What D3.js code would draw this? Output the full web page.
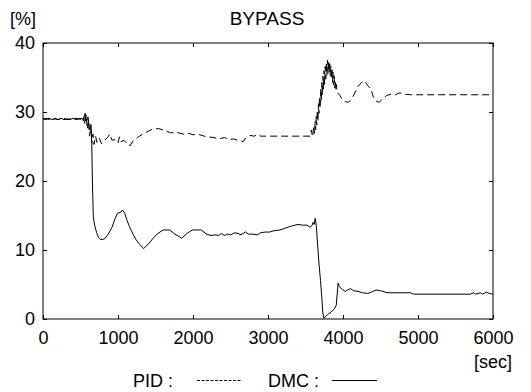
<!DOCTYPE html>
<html>
<head>
<meta charset="utf-8">
<script src="https://cdn.jsdelivr.net/npm/d3@7/dist/d3.min.js"></script>
<style>
  html, body { margin: 0; padding: 0; background: #fff; }
  svg text { font-family: Arial, "Liberation Sans", sans-serif; fill: #000; }
</style>
</head>
<body>
<svg id="chart" width="531" height="392"></svg>
<script>
// ---- data ----
const title = "BYPASS";
const yUnit = "[%]";
const xUnit = "[sec]";
const xTicks = [0, 1000, 2000, 3000, 4000, 5000, 6000];
const yTicks = [0, 10, 20, 30, 40];
const seriesNames = ["PID", "DMC"];

const pidT = [0,40,80,120,160,200,240,280,320,360,400,440,480,520,540,560,575,590,605,620,635,650,665,680,700,720,750,780,820,860,890,920,960,1000,1020,1040,1080,1120,1160,1200,1260,1330,1400,1460,1540,1600,1700,1800,1870,1950,2000,2060,2150,2200,2280,2340,2420,2480,2540,2600,2670,2700,2760,2820,2860,2900,3000,3560,3580,3590,3600,3610,3620,3628,3635,3643,3650,3658,3665,3673,3680,3688,3695,3703,3710,3718,3725,3733,3740,3748,3755,3763,3770,3778,3785,3793,3800,3808,3815,3823,3830,3838,3845,3853,3860,3868,3875,3883,3890,3898,3905,3913,3920,3940,3960,3990,4030,4070,4110,4150,4200,4250,4290,4330,4370,4400,4440,4480,4520,4580,4650,4700,4760,4800,4900,6000];
const pidV = [29.0,29.1,28.9,29.0,29.1,28.9,29.0,29.1,28.9,29.0,28.9,29.1,29.0,28.9,29.3,28.2,29.6,27.5,28.8,26.5,27.8,25.5,26.8,25.3,26.5,25.6,26.2,25.4,25.9,26.3,26.8,25.9,26.0,25.5,26.4,25.7,25.9,25.4,25.1,25.8,26.3,26.8,27.2,27.5,27.6,27.4,27.0,27.0,26.8,26.9,26.7,26.8,26.5,26.4,26.3,26.1,26.3,26.0,26.1,25.9,25.7,26.2,26.6,26.5,26.8,26.5,26.5,26.5,27.4,26.4,26.8,28.0,26.9,28.6,27.4,29.4,28.1,30.3,28.6,31.2,29.8,32.2,30.6,33.3,31.5,34.3,32.4,35.2,33.3,36.0,34.0,36.6,34.8,37.2,35.3,37.5,35.6,37.3,35.7,37.0,35.2,36.7,34.8,36.4,34.3,35.8,33.9,35.2,33.5,34.6,33.2,34.0,32.9,32.6,32.4,31.8,31.5,31.4,31.8,32.6,33.7,34.3,34.5,33.8,33.4,32.3,31.6,31.4,31.8,32.4,32.6,32.5,32.8,32.6,32.5,32.5];

const dmcT = [0,40,80,120,160,200,240,280,320,360,400,440,480,520,540,560,580,600,620,640,650,660,671,690,716,740,770,820,870,920,960,990,1040,1060,1090,1120,1160,1200,1240,1290,1340,1400,1460,1520,1600,1690,1760,1850,1920,1990,2110,2180,2240,2300,2340,2380,2420,2460,2500,2560,2600,2640,2700,2740,2800,2860,2900,2960,3020,3080,3160,3240,3320,3400,3460,3520,3560,3590,3600,3615,3630,3645,3660,3680,3700,3715,3730,3745,3790,3850,3880,3910,3935,3950,3990,4030,4060,4100,4140,4200,4260,4330,4380,4440,4500,4560,4600,4900,4940,5700,5740,5770,5830,5860,5910,5950,6000];
const dmcV = [29.0,28.9,29.1,28.9,29.0,28.9,29.1,28.9,29.0,28.9,29.1,28.9,29.0,29.1,28.7,29.8,28.6,29.3,27.5,28.2,25.5,19.2,14.8,13.5,12.5,11.8,11.5,11.6,12.3,13.3,14.5,15.3,15.5,15.8,15.3,14.3,13.2,12.3,11.5,10.8,10.2,10.8,11.6,12.3,12.9,12.9,12.3,11.7,12.4,12.9,12.9,12.3,12.1,12.2,12.1,12.4,12.1,12.3,12.2,12.5,12.4,12.2,12.6,12.3,12.3,12.2,12.5,12.6,12.6,12.8,12.9,13.2,13.5,13.7,13.6,13.6,13.3,13.6,14.0,13.7,14.6,13.4,11.0,8.0,5.6,3.5,1.0,0.1,0.6,1.1,1.4,2.0,5.2,4.7,4.3,4.0,4.2,4.4,4.1,4.0,3.8,3.7,3.9,4.2,4.1,3.9,3.8,3.8,3.6,3.6,3.8,3.6,3.8,3.6,3.9,3.7,3.6];

// ---- layout ----
const svg = d3.select("#chart");
const L = 43, R = 493, T = 43, B = 319;
const x = d3.scaleLinear().domain([0, 6000]).range([L, R]);
const y = d3.scaleLinear().domain([0, 40]).range([B, T]);

const fs = 18;

// frame
svg.append("rect").attr("x", L).attr("y", T).attr("width", R - L).attr("height", B - T)
  .attr("fill", "none").attr("stroke", "#000").attr("stroke-width", 1);

// axes
const gB = svg.append("g").attr("transform", `translate(0,${B})`)
  .call(d3.axisBottom(x).tickValues(xTicks).tickFormat(d3.format("d")).tickSizeInner(-4).tickSizeOuter(0).tickPadding(12));
const gT = svg.append("g").attr("transform", `translate(0,${T})`)
  .call(d3.axisTop(x).tickValues(xTicks).tickFormat("").tickSizeInner(-4).tickSizeOuter(0));
const gL = svg.append("g").attr("transform", `translate(${L},0)`)
  .call(d3.axisLeft(y).tickValues(yTicks).tickFormat(d3.format("d")).tickSizeInner(-4).tickSizeOuter(0).tickPadding(8));
const gR = svg.append("g").attr("transform", `translate(${R},0)`)
  .call(d3.axisRight(y).tickValues(yTicks).tickFormat("").tickSizeInner(-4).tickSizeOuter(0));
[gB, gT, gL, gR].forEach(g => {
  g.select(".domain").remove();
  g.selectAll("line").attr("stroke", "#000");
  g.selectAll("text").attr("font-size", fs).attr("font-family", "Arial, 'Liberation Sans', sans-serif").attr("fill", "#000");
});

// lines
const line = d3.line().x(d => x(d[0])).y(d => y(d[1]));
const pid = pidT.map((t, i) => [t, pidV[i]]);
const dmc = dmcT.map((t, i) => [t, dmcV[i]]);

const clip = svg.append("clipPath").attr("id", "clip").append("rect")
  .attr("x", L).attr("y", T).attr("width", R - L).attr("height", B - T);

svg.append("path").datum(dmc).attr("d", line).attr("fill", "none")
  .attr("stroke", "#000").attr("stroke-width", 1).attr("clip-path", "url(#clip)");
svg.append("path").datum(pid).attr("d", line).attr("fill", "none")
  .attr("stroke", "#000").attr("stroke-width", 1).attr("stroke-dasharray", "7,4").attr("clip-path", "url(#clip)");

// texts
svg.append("text").attr("x", 267).attr("y", 25).attr("text-anchor", "middle").attr("font-size", 19).text(title);
svg.append("text").attr("x", 10).attr("y", 25).attr("font-size", fs).text(yUnit);
svg.append("text").attr("x", 512).attr("y", 368).attr("text-anchor", "end").attr("font-size", fs).text(xUnit);

// legend
svg.append("text").attr("x", 133).attr("y", 387).attr("font-size", fs).text(seriesNames[0] + " :");
svg.append("line").attr("x1", 197).attr("x2", 242).attr("y1", 380.5).attr("y2", 380.5)
  .attr("stroke", "#000").attr("stroke-width", 1).attr("stroke-dasharray", "3,1.5");
svg.append("text").attr("x", 268).attr("y", 387).attr("font-size", fs).text(seriesNames[1] + " :");
svg.append("line").attr("x1", 332).attr("x2", 377).attr("y1", 380.5).attr("y2", 380.5)
  .attr("stroke", "#000").attr("stroke-width", 1);
</script>
</body>
</html>
